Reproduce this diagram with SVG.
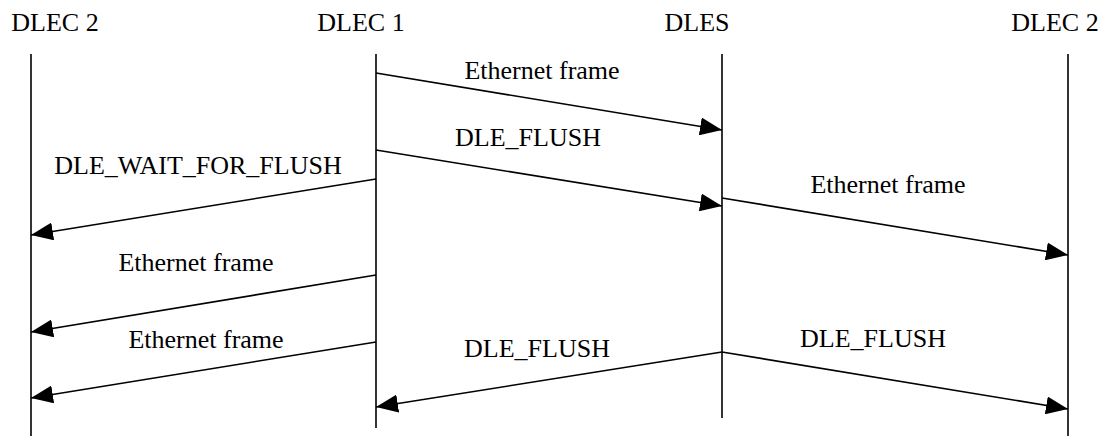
<svg xmlns="http://www.w3.org/2000/svg" width="1104" height="436" viewBox="0 0 1104 436">
<style>
text{font-family:"Liberation Serif","Times New Roman",serif;font-size:26px;fill:#000;text-anchor:middle}
.life{stroke:#000;stroke-width:1.6;fill:none}
.msg{stroke:#000;stroke-width:1.6;fill:none;marker-end:url(#ah)}
</style>
<defs>
<marker id="ah" markerUnits="userSpaceOnUse" markerWidth="22" markerHeight="18" viewBox="0 0 22 18" refX="22" refY="9" orient="auto">
<path d="M0,0 L22,9 L0,18 Z" fill="#000"/>
</marker>
</defs>
<rect width="1104" height="436" fill="#fff"/>
<g id="dlec2-left">
<text x="55" y="31">DLEC 2</text>
<line class="life" x1="31" y1="54" x2="31" y2="436"/>
</g>
<g id="dlec1">
<text x="361" y="31">DLEC 1</text>
<line class="life" x1="376" y1="54" x2="376" y2="428"/>
</g>
<g id="dles">
<text x="697" y="31">DLES</text>
<line class="life" x1="722" y1="54" x2="722" y2="418"/>
</g>
<g id="dlec2-right">
<text x="1055" y="31">DLEC 2</text>
<line class="life" x1="1068" y1="54" x2="1068" y2="436"/>
</g>
<g id="connectors">
<line class="msg" x1="376" y1="73" x2="722" y2="130"/>
<line class="msg" x1="376" y1="150" x2="722" y2="206"/>
<line class="msg" x1="376" y1="179" x2="31" y2="235"/>
<line class="msg" x1="722" y1="198" x2="1068" y2="255"/>
<line class="msg" x1="376" y1="275" x2="31" y2="332"/>
<line class="msg" x1="376" y1="342" x2="31" y2="398"/>
<line class="msg" x1="722" y1="352" x2="376" y2="407"/>
<line class="msg" x1="722" y1="352" x2="1068" y2="409"/>
</g>
<g id="labels">
<text x="542" y="79">Ethernet frame</text>
<text x="528" y="146">DLE_FLUSH</text>
<text x="198" y="174">DLE_WAIT_FOR_FLUSH</text>
<text x="888" y="193">Ethernet frame</text>
<text x="196" y="271">Ethernet frame</text>
<text x="206" y="348">Ethernet frame</text>
<text x="537" y="357">DLE_FLUSH</text>
<text x="873" y="347">DLE_FLUSH</text>
</g>
</svg>
